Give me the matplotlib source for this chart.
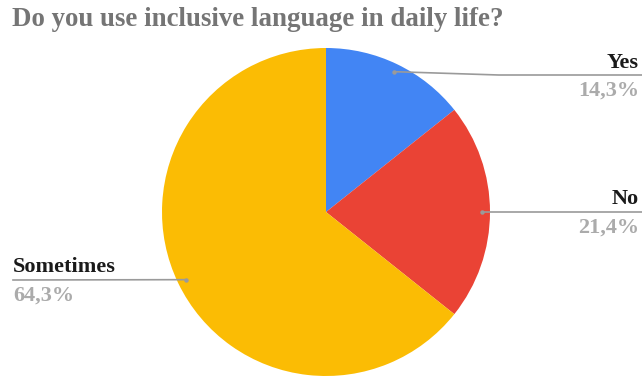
import numpy as np
import matplotlib
matplotlib.use("Agg")
import matplotlib.pyplot as plt

# Survey answers and their shares (%)
answers = ["Yes", "No", "Sometimes"]
shares = [14.3, 21.4, 64.3]
colors = ["#4285F4", "#EA4335", "#FBBC04"]

W, H = 642, 377
fig = plt.figure(figsize=(W / 100, H / 100), dpi=100)
ax = fig.add_axes([0, 0, 1, 1])

cx, cy, r = 326, H - 212, 164
wedges, _ = ax.pie(shares, colors=colors, startangle=90, counterclock=False,
                   center=(cx, cy), radius=r, frame=True,
                   wedgeprops=dict(linewidth=0))
ax.set_xlim(0, W)
ax.set_ylim(0, H)
ax.set_aspect("equal")
ax.axis("off")

serif = ["Liberation Serif", "DejaVu Serif"]
fig.text(12 / W, 1 - 25.5 / H, "Do you use inclusive language in daily life?",
         fontsize=19.4, fontweight="bold", color="#757575", family=serif,
         ha="left", va="baseline")

# label placement: (side, line y in px, text x in px)
layout = {"Yes": ("right", 75, 639),
          "No": ("right", 212, 639),
          "Sometimes": ("left", 280, 13)}

line_col = "#9a9a9a"
for w, name, val in zip(wedges, answers, shares):
    mid = np.deg2rad((w.theta1 + w.theta2) / 2)
    px = cx + 0.95 * r * np.cos(mid)
    py = cy + 0.95 * r * np.sin(mid)
    side, ly, tx = layout[name]
    ly = H - ly
    if side == "right":
        ax.plot([px, px + 105, W], [py, ly, ly],
                color=line_col, lw=1.2, solid_capstyle="butt")
        ha = "right"
    else:
        ax.plot([px, 13], [py, ly], color=line_col, lw=1.2)
        ha = "left"
    ax.plot([px], [py], "o", ms=3.2, color=line_col, mec="none")
    ax.text(tx, ly + 7.5, name, fontsize=16, fontweight="bold", color="#1a1a1a",
            family=serif, ha=ha, va="baseline")
    ax.text(tx, ly - 21, f"{val:.1f}%".replace(".", ","), fontsize=16,
            fontweight="bold", color="#ababab", family=serif, ha=ha, va="baseline")

fig.savefig("out.png", dpi=100, facecolor="white")
